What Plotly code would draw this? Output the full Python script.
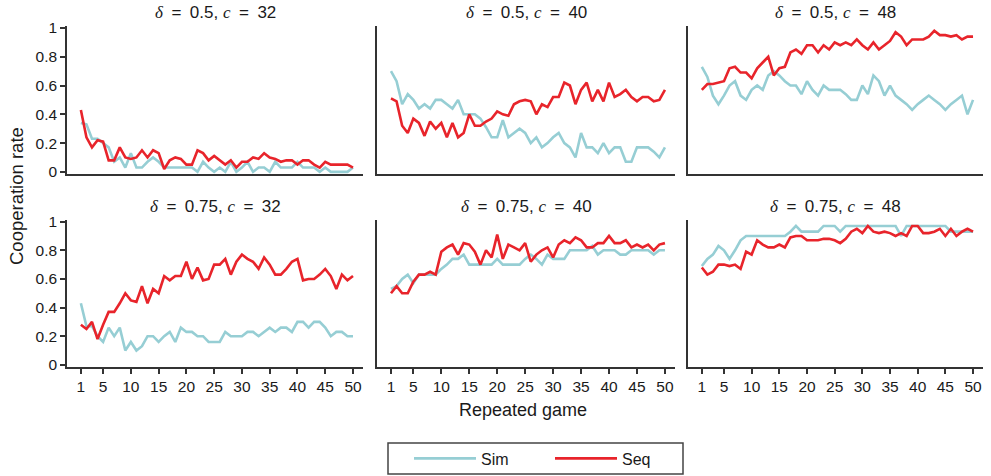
import plotly.graph_objects as go

games = list(range(1, 51))

sim_05_32 = [0.34, 0.33, 0.23, 0.23, 0.20, 0.17, 0.07, 0.10, 0.03, 0.13, 0.03, 0.03, 0.07, 0.10, 0.07,
             0.03, 0.03, 0.03, 0.03, 0.03, 0.03, 0.00, 0.07, 0.03, 0.00, 0.03, 0.00, 0.07, 0.00, 0.03,
             0.07, 0.00, 0.03, 0.03, 0.00, 0.07, 0.03, 0.03, 0.03, 0.07, 0.03, 0.03, 0.03, 0.00, 0.03,
             0.00, 0.00, 0.00, 0.00, 0.03]
seq_05_32 = [0.43, 0.24, 0.17, 0.22, 0.21, 0.08, 0.08, 0.17, 0.10, 0.09, 0.10, 0.15, 0.10, 0.15, 0.13,
             0.02, 0.08, 0.10, 0.09, 0.05, 0.05, 0.15, 0.13, 0.08, 0.11, 0.08, 0.05, 0.08, 0.03, 0.07,
             0.07, 0.10, 0.09, 0.13, 0.10, 0.09, 0.07, 0.08, 0.08, 0.05, 0.08, 0.08, 0.05, 0.03, 0.07,
             0.05, 0.05, 0.05, 0.05, 0.03]

sim_05_40 = [0.70, 0.63, 0.47, 0.54, 0.50, 0.44, 0.47, 0.44, 0.50, 0.50, 0.47, 0.44, 0.50, 0.40, 0.40,
             0.40, 0.37, 0.31, 0.24, 0.24, 0.36, 0.24, 0.27, 0.30, 0.27, 0.20, 0.24, 0.17, 0.20, 0.24,
             0.27, 0.20, 0.17, 0.10, 0.27, 0.17, 0.17, 0.13, 0.20, 0.13, 0.17, 0.17, 0.07, 0.07, 0.17,
             0.17, 0.17, 0.14, 0.10, 0.17]
seq_05_40 = [0.51, 0.49, 0.32, 0.27, 0.37, 0.34, 0.25, 0.35, 0.30, 0.34, 0.24, 0.34, 0.24, 0.27, 0.40,
             0.32, 0.32, 0.35, 0.37, 0.42, 0.40, 0.39, 0.47, 0.49, 0.50, 0.49, 0.40, 0.47, 0.45, 0.52,
             0.52, 0.62, 0.60, 0.47, 0.57, 0.62, 0.49, 0.57, 0.49, 0.62, 0.52, 0.54, 0.57, 0.52, 0.49,
             0.52, 0.52, 0.49, 0.50, 0.57]

sim_05_48 = [0.73, 0.66, 0.53, 0.47, 0.53, 0.60, 0.63, 0.53, 0.50, 0.57, 0.60, 0.57, 0.67, 0.70, 0.67,
             0.63, 0.60, 0.60, 0.54, 0.63, 0.57, 0.53, 0.60, 0.57, 0.57, 0.57, 0.54, 0.50, 0.50, 0.60,
             0.54, 0.67, 0.63, 0.53, 0.60, 0.53, 0.50, 0.47, 0.43, 0.47, 0.50, 0.53, 0.50, 0.47, 0.43,
             0.47, 0.50, 0.53, 0.40, 0.50]
seq_05_48 = [0.57, 0.61, 0.61, 0.62, 0.63, 0.72, 0.73, 0.69, 0.69, 0.65, 0.72, 0.76, 0.80, 0.67, 0.72,
             0.73, 0.83, 0.85, 0.82, 0.88, 0.88, 0.83, 0.88, 0.85, 0.90, 0.88, 0.90, 0.88, 0.92, 0.88,
             0.85, 0.90, 0.85, 0.88, 0.91, 0.97, 0.94, 0.88, 0.92, 0.92, 0.92, 0.94, 0.98, 0.95, 0.95,
             0.94, 0.95, 0.92, 0.94, 0.94]

sim_075_32 = [0.43, 0.27, 0.27, 0.20, 0.16, 0.26, 0.20, 0.26, 0.10, 0.16, 0.10, 0.13, 0.20, 0.20, 0.16,
              0.20, 0.23, 0.16, 0.26, 0.23, 0.23, 0.20, 0.20, 0.16, 0.16, 0.16, 0.23, 0.20, 0.20, 0.20,
              0.23, 0.23, 0.20, 0.23, 0.26, 0.23, 0.26, 0.26, 0.23, 0.30, 0.30, 0.26, 0.30, 0.30, 0.26,
              0.20, 0.23, 0.23, 0.20, 0.20]
seq_075_32 = [0.28, 0.25, 0.30, 0.18, 0.28, 0.37, 0.37, 0.43, 0.50, 0.45, 0.44, 0.55, 0.43, 0.53, 0.50,
              0.62, 0.59, 0.62, 0.62, 0.72, 0.60, 0.68, 0.59, 0.60, 0.70, 0.70, 0.74, 0.63, 0.72, 0.77,
              0.74, 0.72, 0.67, 0.75, 0.70, 0.63, 0.63, 0.67, 0.72, 0.74, 0.59, 0.60, 0.60, 0.63, 0.67,
              0.62, 0.53, 0.63, 0.59, 0.62]

sim_075_40 = [0.53, 0.55, 0.60, 0.63, 0.57, 0.63, 0.63, 0.63, 0.63, 0.67, 0.70, 0.74, 0.74, 0.77, 0.70,
              0.70, 0.70, 0.70, 0.70, 0.74, 0.70, 0.70, 0.70, 0.70, 0.74, 0.77, 0.74, 0.70, 0.77, 0.74,
              0.74, 0.74, 0.80, 0.80, 0.80, 0.80, 0.83, 0.77, 0.80, 0.80, 0.80, 0.77, 0.77, 0.80, 0.80,
              0.80, 0.80, 0.77, 0.80, 0.80]
seq_075_40 = [0.50, 0.55, 0.50, 0.50, 0.58, 0.63, 0.63, 0.65, 0.63, 0.79, 0.82, 0.84, 0.77, 0.85, 0.84,
              0.79, 0.70, 0.80, 0.75, 0.91, 0.74, 0.84, 0.82, 0.80, 0.85, 0.72, 0.77, 0.80, 0.82, 0.75,
              0.84, 0.87, 0.85, 0.89, 0.87, 0.82, 0.82, 0.85, 0.85, 0.90, 0.85, 0.85, 0.87, 0.82, 0.84,
              0.82, 0.84, 0.80, 0.84, 0.85]

sim_075_48 = [0.69, 0.74, 0.77, 0.83, 0.80, 0.74, 0.80, 0.87, 0.90, 0.90, 0.90, 0.90, 0.90, 0.90, 0.90,
              0.90, 0.93, 0.97, 0.93, 0.93, 0.93, 0.93, 0.97, 0.97, 0.97, 0.93, 0.97, 0.97, 0.97, 0.97,
              0.97, 0.97, 0.97, 0.97, 0.97, 0.97, 0.90, 0.97, 0.97, 0.97, 0.97, 0.97, 0.97, 0.97, 0.97,
              0.93, 0.93, 0.93, 0.93, 0.93]
seq_075_48 = [0.68, 0.63, 0.65, 0.70, 0.70, 0.69, 0.70, 0.67, 0.79, 0.77, 0.87, 0.84, 0.82, 0.82, 0.84,
              0.82, 0.89, 0.90, 0.90, 0.87, 0.87, 0.87, 0.88, 0.88, 0.87, 0.85, 0.88, 0.93, 0.95, 0.92,
              0.97, 0.93, 0.92, 0.93, 0.92, 0.90, 0.92, 0.90, 0.97, 0.97, 0.92, 0.92, 0.93, 0.95, 0.90,
              0.95, 0.90, 0.93, 0.95, 0.93]

panel_deltas = ["0.5", "0.5", "0.5", "0.75", "0.75", "0.75"]
panel_costs = ["32", "40", "48", "32", "40", "48"]
panel_sim = [sim_05_32, sim_05_40, sim_05_48, sim_075_32, sim_075_40, sim_075_48]
panel_seq = [seq_05_32, seq_05_40, seq_05_48, seq_075_32, seq_075_40, seq_075_48]

x_ticks = [1, 5, 10, 15, 20, 25, 30, 35, 40, 45, 50]
y_ticks = [0, 0.2, 0.4, 0.6, 0.8, 1]
y_tick_labels = ["0", "0.2", "0.4", "0.6", "0.8", "1"]

SIM_COLOR = "#96CED4"
SEQ_COLOR = "#E8242B"
AXIS_COLOR = "#333333"
TEXT_COLOR = "#1a1a1a"
FONT = "Liberation Sans, Arial, sans-serif"

W, H = 991, 476
col_px = [(67, 363), (377, 675), (688, 983)]
row_px = [(25.8, 174.0), (219.5, 367.0)]  # top, bottom in px

fig = go.Figure()
layout = dict(
    template="none",
    width=W, height=H,
    margin=dict(l=0, r=0, t=0, b=0, autoexpand=False),
    paper_bgcolor="white", plot_bgcolor="white",
    font=dict(family=FONT, size=15, color=TEXT_COLOR),
    showlegend=True,
)

annotations = []
for k in range(6):
    r, c = divmod(k, 3)
    idx = "" if k == 0 else str(k + 1)
    xa, ya = "x" + idx, "y" + idx
    fig.add_trace(go.Scatter(x=games, y=panel_sim[k], mode="lines", name="Sim",
                             line=dict(color=SIM_COLOR, width=2.6),
                             xaxis=xa, yaxis=ya, showlegend=(k == 0), legendrank=1))
    fig.add_trace(go.Scatter(x=games, y=panel_seq[k], mode="lines", name="Seq",
                             line=dict(color=SEQ_COLOR, width=2.6),
                             xaxis=xa, yaxis=ya, showlegend=(k == 0), legendrank=2))
    x0, x1 = col_px[c]
    t0, b0 = row_px[r]
    bottom = (r == 1)
    left = (c == 0)
    layout["xaxis" + idx] = dict(
        domain=[x0 / W, x1 / W], range=[-1.5, 51.8], anchor=ya, automargin=False,
        showline=True, linecolor=AXIS_COLOR, linewidth=1.5, showgrid=False, zeroline=False,
        tickvals=x_ticks if bottom else [], ticks="outside" if bottom else "",
        ticklen=5, tickwidth=1.5, tickcolor=AXIS_COLOR,
        showticklabels=bottom, tickfont=dict(size=15.5, color=TEXT_COLOR),
    )
    layout["yaxis" + idx] = dict(
        domain=[1 - b0 / H, 1 - t0 / H], range=[-0.015, 1.015], anchor=xa, automargin=False,
        showline=True, linecolor=AXIS_COLOR, linewidth=1.5, showgrid=False, zeroline=False,
        tickvals=y_ticks if left else [], ticktext=y_tick_labels if left else [],
        ticks="outside" if left else "", ticklen=5, tickwidth=1.5, tickcolor=AXIS_COLOR,
        showticklabels=left, tickfont=dict(size=15.5, color=TEXT_COLOR),
    )
    it = "<span style='font-family:Liberation Serif;font-style:italic'>%s</span>"
    sp = "\u2002"
    title = (it % "δ") + sp + "=" + sp + panel_deltas[k] + ", " + (it % "c") + sp + "=" + sp + panel_costs[k]
    annotations.append(dict(
        text=title, x=(x0 + x1) / 2 / W, y=1 - (t0 - 13.5) / H, xref="paper", yref="paper",
        showarrow=False, font=dict(size=17, color=TEXT_COLOR), xanchor="center", yanchor="middle",
    ))

annotations.append(dict(text="Cooperation rate", x=16 / W, y=1 - 196 / H, xref="paper", yref="paper",
                        showarrow=False, textangle=-90, font=dict(size=18.5, color=TEXT_COLOR),
                        xanchor="center", yanchor="middle"))
annotations.append(dict(text="Repeated game", x=523 / W, y=1 - 410 / H, xref="paper", yref="paper",
                        showarrow=False, font=dict(size=18, color=TEXT_COLOR),
                        xanchor="center", yanchor="middle"))

layout["annotations"] = annotations
# legend frame
layout["shapes"] = [dict(type="rect", xref="paper", yref="paper",
                         x0=388 / W, x1=683 / W, y0=1 - 474 / H, y1=1 - 443 / H,
                         line=dict(color="#444444", width=1.5), fillcolor="rgba(0,0,0,0)", layer="below")]
layout["legend"] = dict(
    orientation="h", x=409 / W, y=1 - 458.5 / H, xanchor="left", yanchor="middle",
    borderwidth=0, bgcolor="rgba(0,0,0,0)",
    font=dict(size=16, color=TEXT_COLOR), itemwidth=62, entrywidth=64,
    traceorder="normal",
)
fig.update_layout(**layout)
fig.write_html("out.html", config={"displayModeBar": False},
               post_script="document.body.style.margin='0px';document.body.style.overflow='hidden';")
